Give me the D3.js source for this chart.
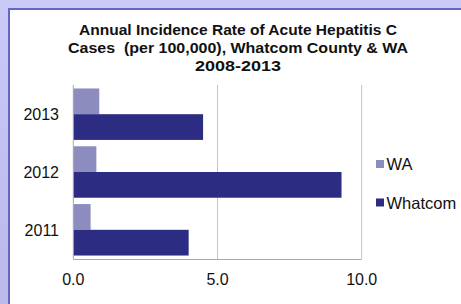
<!DOCTYPE html>
<html>
<head>
<meta charset="utf-8">
<script src="https://cdn.jsdelivr.net/npm/d3@7"></script>
<style>
  html, body { margin: 0; padding: 0; }
  body { width: 461px; height: 304px; overflow: hidden;
         background: linear-gradient(#cacaf9, #b9b9ea); }
  svg { position: absolute; left: 0; top: 0; }
  text { font-family: "Liberation Sans", Arial, sans-serif; fill: #111; }
</style>
</head>
<body>
<script>
// data
const years = ['2013', '2012', '2011']
const waRates = [0.9, 0.8, 0.6]
const whatcomRates = [4.5, 9.3, 4.0]
const xTicks = [0, 5, 10]
const seriesNames = ['WA', 'Whatcom']
const seriesColors = ['#8c8cbe', '#2c2c82']
const titleLines = [
  'Annual Incidence Rate of Acute Hepatitis C',
  'Cases  (per 100,000), Whatcom County & WA',
  '2008-2013'
]

const W = 461, H = 304

const svg = d3.select('body').append('svg')
  .attr('width', W)
  .attr('height', H)

// white panel with border
svg.append('rect')
  .attr('x', 9).attr('y', 9)
  .attr('width', W).attr('height', H)
  .attr('fill', '#fff')
  .attr('stroke', '#6666c4')
  .attr('stroke-width', 2)

/* Title */
const titleWidths = [318, 340, 86]
const titleBase = [34.5, 53, 71]
svg.append('g').selectAll('text')
  .data(titleLines)
  .join('text')
  .attr('x', 238)
  .attr('y', (d, i) => titleBase[i])
  .attr('text-anchor', 'middle')
  .attr('font-size', 15)
  .attr('font-weight', 'bold')
  .attr('textLength', (d, i) => titleWidths[i])
  .attr('lengthAdjust', 'spacingAndGlyphs')
  .style('white-space', 'pre')
  .text(d => d)

/* Scales */
const x = d3.scaleLinear().domain([0, 10]).range([73.3, 361.7])
const y = d3.scaleBand().domain(years).range([85, 259])
  .paddingInner(0.11).paddingOuter(0.06)
const half = y.bandwidth() / 2

const $plot = svg.append('g')

// gridlines
$plot.selectAll('line.grid')
  .data(xTicks.slice(1))
  .join('line')
  .attr('class', 'grid')
  .attr('x1', d => x(d)).attr('x2', d => x(d))
  .attr('y1', 85).attr('y2', 259)
  .attr('stroke', '#c4c4c4')
  .attr('stroke-width', 1)

// bars
const rows = years.map((yr, i) => ({ yr, wa: waRates[i], wh: whatcomRates[i] }))

$plot.selectAll('rect.wa')
  .data(rows)
  .join('rect')
  .attr('class', 'wa')
  .attr('x', x(0))
  .attr('y', d => y(d.yr))
  .attr('width', d => x(d.wa) - x(0))
  .attr('height', half)
  .attr('fill', seriesColors[0])

$plot.selectAll('rect.wh')
  .data(rows)
  .join('rect')
  .attr('class', 'wh')
  .attr('x', x(0))
  .attr('y', d => y(d.yr) + half)
  .attr('width', d => x(d.wh) - x(0))
  .attr('height', half)
  .attr('fill', seriesColors[1])

// axes lines
$plot.append('line')
  .attr('x1', x(0)).attr('x2', x(0))
  .attr('y1', 85).attr('y2', 259.5)
  .attr('stroke', '#a8a8a8')
$plot.append('line')
  .attr('x1', x(0)).attr('x2', x(10))
  .attr('y1', 259.5).attr('y2', 259.5)
  .attr('stroke', '#a8a8a8')

// y labels
$plot.selectAll('text.year')
  .data(years)
  .join('text')
  .attr('class', 'year')
  .attr('x', 59)
  .attr('y', d => y(d) + y.bandwidth() / 2)
  .attr('dy', '0.36em')
  .attr('text-anchor', 'end')
  .attr('font-size', 16)
  .text(d => d)

// x labels
$plot.selectAll('text.xt')
  .data(xTicks)
  .join('text')
  .attr('class', 'xt')
  .attr('x', d => x(d))
  .attr('y', 285)
  .attr('text-anchor', 'middle')
  .attr('font-size', 16)
  .text(d => d3.format('.1f')(d))

/* Legend */
const legendY = [160, 198.5]
const $legend = svg.append('g').selectAll('g')
  .data(seriesNames)
  .join('g')
  .attr('transform', (d, i) => `translate(376, ${legendY[i]})`)

$legend.append('rect')
  .attr('width', 8).attr('height', 8)
  .attr('fill', (d, i) => seriesColors[i])

$legend.append('text')
  .attr('x', 10.5)
  .attr('y', 10.3)
  .attr('font-size', 16.5)
  .text(d => d)
</script>
</body>
</html>
